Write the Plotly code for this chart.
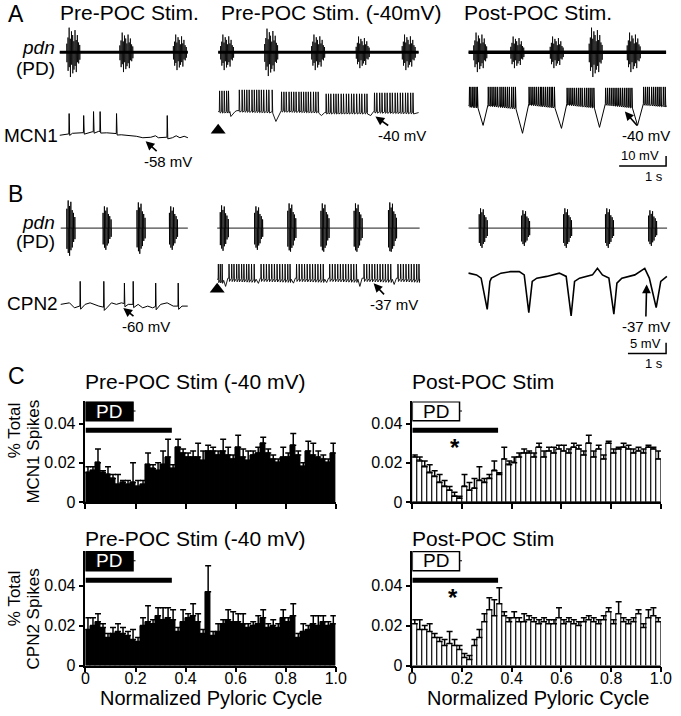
import numpy as np
import plotly.graph_objects as go

W, H = 681, 716
FONT = "Liberation Sans, Arial, sans-serif"

#%% panel A - pdn bursts (centre time s, amplitude a.u.) and MCN1 membrane potential
a_pre_bursts = [0.29, 1.42, 2.56]
a_pre_amps = [25, 20, 18]
a_hold_bursts = [0.19, 1.13, 2.13, 3.08, 4.06]
a_hold_amps = [18, 24, 18, 16, 18]
a_post_bursts = [0.25, 1.04, 1.88, 2.71, 3.52]
a_post_amps = [20, 16, 16, 25, 20]

mcn1_pre_knot_t = [0, .10, .27, .48, .69, .83, 1.0, 1.19, 1.31, 1.48, 1.63, 1.77, 1.94, 2.04, 2.10, 2.27, 2.40, 2.48, 2.56, 2.65, 2.73]
mcn1_pre_knot_v = [-55, -54.5, -53, -52.5, -51.5, -51, -52.5, -53, -54.5, -55, -56, -57.5, -57, -55.5, -57.5, -57, -57.5, -55.5, -57.5, -56, -57.5]
mcn1_pre_spikes = [([.20, .51, .72, .86, 1.21, 2.29], [-33, -35, -31, -31, -33, -35])]

mcn1_hold_knot_t = [0, .25, .27, .36, .40, 1.15, 1.23, 1.33, 2.13, 2.20, 2.27, 3.18, 3.25, 3.31, 4.27]
mcn1_hold_knot_v = [-36, -36, -41, -36, -35, -36, -46, -35, -36, -40, -37, -37, -40, -36, -37]
mcn1_hold_spikes = [
    ([.03, .08, .13, .18, .22], -15),
    ([.45, .51, .56, .61, .66, .72, .77, .82, .87, .92, .97, 1.03, 1.08, 1.15], -14),
    ([1.35, 1.40, 1.45, 1.51, 1.56, 1.61, 1.66, 1.72, 1.77, 1.82, 1.87, 1.92, 1.97, 2.03, 2.08, 2.13], -16),
    ([2.30, 2.35, 2.40, 2.46, 2.51, 2.56, 2.62, 2.67, 2.73, 2.78, 2.84, 2.89, 2.95, 3.01, 3.06, 3.12, 3.17], -18),
    ([3.33, 3.38, 3.44, 3.49, 3.55, 3.60, 3.66, 3.71, 3.77, 3.82, 3.88, 3.93, 3.99, 4.04, 4.10, 4.15], -17),
]

mcn1_post_knot_t = [0, .19, .31, .40, 1.0, 1.15, 1.27, 1.83, 1.98, 2.08, 2.67, 2.79, 2.90, 3.48, 3.60, 3.71, 4.21]
mcn1_post_knot_v = [-34, -35, -54, -33, -36, -62, -32, -35, -57, -32, -35, -56, -32, -35, -54, -32, -34]
mcn1_post_spikes = [
    ([.02, .05, .09, .12, .16, .19], -15),
    ([.42, .46, .50, .54, .58, .62, .67, .71, .75, .79, .83, .87, .92, .96, 1.0], -15),
    ([1.29, 1.33, 1.37, 1.41, 1.45, 1.49, 1.53, 1.56, 1.60, 1.64, 1.68, 1.72, 1.76, 1.79, 1.83], -15),
    ([2.10, 2.14, 2.18, 2.22, 2.26, 2.30, 2.34, 2.38, 2.42, 2.47, 2.51, 2.55, 2.59, 2.63, 2.67], -16),
    ([2.92, 2.96, 3.0, 3.04, 3.08, 3.12, 3.16, 3.20, 3.24, 3.28, 3.32, 3.36, 3.40, 3.44, 3.48], -16),
    ([3.73, 3.77, 3.81, 3.85, 3.90, 3.94, 3.98, 4.02, 4.06, 4.10, 4.15, 4.19], -15),
]

#%% panel B - pdn bursts and CPN2 membrane potential
b_pre_bursts = [0.26, 1.21, 2.10, 2.95]
b_pre_amps = [28, 22, 26, 22]
b_hold_bursts = [0.18, 1.08, 1.95, 2.82, 3.69, 4.59]
b_hold_amps = [23, 22, 25, 25, 25, 26]
b_post_bursts = [0.38, 1.49, 2.59, 3.69, 4.82]
b_post_amps = [20, 18, 20, 20, 18]

cpn2_pre_knot_t = [0, .23, .36, .64, .77, 1.0, 1.21, 1.33, 1.46, 1.59, 1.77, 2.03, 2.15, 2.28, 2.41, 2.62, 2.79, 2.95, 3.18, 3.33]
cpn2_pre_knot_v = [-59.2, -58.5, -60.8, -59.2, -58.5, -60, -60.8, -58.5, -59.2, -58.5, -59.2, -59.2, -60.8, -60, -60.8, -59.2, -58.5, -60, -60, -60]
cpn2_pre_spikes = [([.51, 1.13, 1.67, 1.90, 2.49, 3.08], [-48.6, -48.6, -49.4, -48.6, -49.4, -49.4])]

cpn2_hold_knot_t = [0, .17, .22, .28, 1.02, 1.08, 1.13, 1.94, 2.0, 2.05, 2.82, 2.87, 2.92, 3.69, 3.74, 3.80, 4.59, 4.64, 4.70, 5.31]
cpn2_hold_knot_v = [-36, -36.5, -39.3, -35.5, -36, -37.9, -35.5, -36, -37.8, -35.5, -36, -37.5, -35.5, -36, -39.3, -35.5, -36, -38.4, -35.5, -36]
cpn2_hold_spikes = [
    ([.03, .08, .13], -29),
    ([.31, .38, .44, .51, .57, .64, .70, .77, .83, .90, .97], -29),
    ([1.15, 1.22, 1.29, 1.36, 1.43, 1.50, 1.57, 1.64, 1.71, 1.78, 1.85, 1.91], -29),
    ([2.08, 2.15, 2.22, 2.29, 2.36, 2.43, 2.50, 2.57, 2.64, 2.71, 2.78], -29),
    ([2.95, 3.02, 3.09, 3.16, 3.23, 3.30, 3.37, 3.44, 3.51, 3.58, 3.65], -29),
    ([3.85, 3.92, 3.99, 4.06, 4.13, 4.20, 4.27, 4.34, 4.41, 4.48, 4.55], -29),
    ([4.74, 4.81, 4.88, 4.95, 5.02, 5.09, 5.16, 5.23, 5.29], -29),
]

cpn2_post_t = [0, .21, .33, .49, .56, .60, .85, 1.10, 1.33, 1.46, 1.58, 1.67, 1.79, 2.05, 2.38, 2.56, 2.69, 2.78,
               2.91, 3.25, 3.38, 3.51, 3.68, 3.81, 3.89, 4.02, 4.36, 4.62, 4.74, 4.92, 5.04, 5.20]
cpn2_post_v = [-34.1, -34.9, -36.4, -50.8, -37.9, -36.4, -34.1, -33.4, -33.4, -34.9, -52.3, -37.9, -36.4, -35.6, -34.1, -35.6,
               -53.8, -37.9, -36.4, -34.9, -31.9, -34.9, -36.4, -53.0, -38.7, -36.4, -34.9, -31.9, -36.4, -50.0, -37.9, -35.6]

# extracellular spike pattern inside one burst (offset s, relative up / down deflection)
a_burst_off = [-0.14, -0.115, -0.09, -0.065, -0.04, -0.015, 0.01, 0.035, 0.06, 0.085, 0.11, 0.135]
a_burst_up = [0.35, 0.6, 1.0, 0.55, 0.85, 0.7, 0.45, 0.9, 0.5, 0.7, 0.4, 0.3]
a_burst_dn = [0.4, 0.75, 0.6, 1.0, 0.5, 0.85, 0.7, 0.55, 0.8, 0.4, 0.45, 0.3]
b_burst_off = [-0.1, -0.065, -0.03, 0.005, 0.04, 0.075, 0.11]
b_burst_up = [0.7, 1.0, 0.8, 0.95, 0.65, 0.55, 0.4]
b_burst_dn = [0.75, 0.9, 1.0, 0.8, 0.7, 0.5, 0.4]

#%% panel C - spike phase histograms (50 bins), mean and SE
bin_w = 0.02
bins = [round(bin_w * (i + 0.5), 3) for i in range(50)]
pd_end = 0.345

mcn1_pre = [.015, .016, .020, .015, .014, .012, .009, .010, .009, .010, .008, .009, .019, .017, .016, .019, .023, .017, .028, .025,
            .023, .023, .023, .021, .026, .026, .024, .026, .024, .022, .028, .023, .021, .024, .025, .030, .025, .022, .020, .023,
            .023, .029, .024, .018, .026, .024, .023, .022, .020, .025]
mcn1_pre_se = [.003, .002, .007, .001, .004, .002, .005, .001, .002, .010, .003, .002, .006, .002, .004, .007, .009, .002, .004, .002,
               .002, .003, .007, .005, .003, .002, .002, .006, .004, .002, .006, .004, .005, .002, .003, .003, .002, .002, .002, .005,
               .002, .006, .002, .002, .005, .006, .003, .002, .002, .005]
mcn1_post = [.023, .021, .018, .015, .013, .010, .008, .006, .003, .002, .008, .006, .007, .011, .010, .012, .016, .014, .022, .019,
             .020, .023, .025, .025, .023, .028, .023, .026, .025, .027, .026, .025, .028, .027, .024, .030, .023, .027, .022, .030,
             .025, .027, .028, .027, .025, .026, .025, .028, .027, .022]
mcn1_post_se = [.001, .002, .003, .004, .003, .004, .003, .002, .002, .001, .006, .004, .005, .007, .002, .002, .005, .001, .006, .002,
                .003, .002, .002, .001, .002, .002, .003, .002, .003, .002, .003, .002, .002, .002, .002, .004, .003, .002, .002, .001,
                .002, .001, .002, .002, .002, .002, .002, .001, .001, .004]
cpn2_pre = [.018, .020, .022, .019, .014, .016, .017, .016, .015, .013, .012, .020, .022, .021, .025, .023, .024, .023, .017, .022,
            .024, .025, .022, .016, .037, .015, .017, .021, .023, .022, .022, .021, .019, .020, .021, .024, .019, .020, .019, .024,
            .022, .025, .014, .017, .018, .021, .020, .022, .020, .021]
cpn2_pre_se = [.006, .004, .004, .002, .002, .003, .004, .003, .002, .005, .002, .004, .008, .002, .004, .006, .005, .005, .002, .006,
               .002, .006, .004, .002, .013, .002, .004, .002, .005, .005, .004, .005, .002, .002, .004, .004, .002, .003, .002, .004,
               .002, .006, .002, .004, .002, .004, .005, .003, .002, .004]
cpn2_post = [.021, .018, .018, .017, .014, .012, .010, .011, .010, .008, .004, .003, .010, .014, .022, .028, .025, .031, .025, .022,
             .024, .022, .022, .023, .022, .021, .022, .021, .021, .024, .021, .022, .021, .020, .022, .023, .022, .021, .023, .027,
             .021, .026, .022, .021, .022, .026, .019, .024, .025, .022]
cpn2_post_se = [.002, .005, .002, .004, .002, .002, .003, .006, .003, .002, .002, .002, .003, .004, .004, .006, .008, .008, .002, .002,
                .003, .002, .004, .002, .002, .002, .002, .002, .002, .005, .002, .002, .002, .002, .002, .002, .002, .002, .002, .002,
                .002, .006, .002, .002, .002, .002, .002, .004, .004, .002]


#%% helpers
def pdn_xy(bursts, amps, off, up, dn, t_end):
    xs, ys = [0.0], [0.0]
    for tb, a in zip(bursts, amps):
        for o, u, d in zip(off, up, dn):
            t = tb + o
            xs += [t, t, t + 0.003, t + 0.006]
            ys += [0, a * u, -a * d, 0]
    xs.append(t_end)
    ys.append(0)
    return xs, ys


def vm_xy(knot_t, knot_v, runs):
    pts = list(zip(knot_t, knot_v))
    for times, peaks in runs:
        if np.isscalar(peaks):
            peaks = [peaks] * len(times)
        for t, p in zip(times, peaks):
            b = float(np.interp(t, knot_t, knot_v))
            pts += [(t - 0.006, b), (t, p), (t + 0.012, b - 1.5)]
    pts.sort()
    return [p[0] for p in pts], [p[1] for p in pts]


layout = {}
n_ax = [0]


def axes(box, origin, vref, px_x, px_y):
    # box = (left, right, top, bottom) in pixels, origin = pixel where (0, vref) sits
    n_ax[0] += 1
    s = '' if n_ax[0] == 1 else str(n_ax[0])
    x0, x1, y0, y1 = box
    ox, oy = origin
    layout['xaxis' + s] = dict(domain=[x0 / W, x1 / W], range=[(x0 - ox) / px_x, (x1 - ox) / px_x],
                               visible=False, anchor='y' + s, fixedrange=True)
    layout['yaxis' + s] = dict(domain=[1 - y1 / H, 1 - y0 / H],
                               range=[vref - (y1 - oy) / px_y, vref + (oy - y0) / px_y],
                               visible=False, anchor='x' + s, fixedrange=True)
    return 'x' + s, 'y' + s


fig = go.Figure()
annots = []
shapes = []


def line(xa, ya, x, y, w=1.0):
    fig.add_trace(go.Scatter(x=x, y=y, mode='lines', line=dict(color='black', width=w),
                             xaxis=xa, yaxis=ya, showlegend=False, hoverinfo='skip'))


def arrow_label(xa, ya, t, v, text, ax, ay):
    annots.append(dict(xref=xa, yref=ya, x=t, y=v, text=text, showarrow=True, ax=ax, ay=ay,
                       arrowhead=2, arrowsize=1.1, arrowwidth=1.6, arrowcolor='black', standoff=0,
                       font=dict(size=15)))


def ptext(x, y, text, size, xanchor='center', **kw):
    annots.append(dict(xref='paper', yref='paper', x=x / W, y=1 - y / H, text=text, showarrow=False,
                       xanchor=xanchor, yanchor='middle', font=dict(size=size), **kw))


#%% panel A traces
A_S, A_MV = 48, 1.0
xa, ya = axes((54, 191, 18, 88), (57, 53), 0, A_S, 1)
line(xa, ya, [0, 131 / A_S], [0, 0], 3)
line(xa, ya, *pdn_xy(a_pre_bursts, a_pre_amps, a_burst_off, a_burst_up, a_burst_dn, 131 / A_S), 0.8)
xa, ya = axes((216, 427, 18, 88), (219, 53), 0, A_S, 1)
line(xa, ya, [0, 205 / A_S], [0, 0], 3)
line(xa, ya, *pdn_xy(a_hold_bursts, a_hold_amps, a_burst_off, a_burst_up, a_burst_dn, 205 / A_S), 0.8)
xa, ya = axes((472, 680, 18, 88), (475, 53), 0, A_S, 1)
line(xa, ya, [0, 202 / A_S], [0, 0], 3.5)
line(xa, ya, *pdn_xy(a_post_bursts, a_post_amps, a_burst_off, a_burst_up, a_burst_dn, 202 / A_S), 0.8)

xa, ya = axes((54, 191, 100, 150), (57, 140), -58, A_S, A_MV)
line(xa, ya, *vm_xy(mcn1_pre_knot_t, mcn1_pre_knot_v, mcn1_pre_spikes), 1)
arrow_label(xa, ya, 1.83, -61, '-58 mV', 22, 20)

xa, ya = axes((216, 427, 80, 140), (219, 117), -40, A_S, A_MV)
line(xa, ya, *vm_xy(mcn1_hold_knot_t, mcn1_hold_knot_v, mcn1_hold_spikes), 0.9)
fig.add_trace(go.Scatter(x=[0], y=[-55], mode='markers', marker=dict(symbol='triangle-up', size=13, color='black'),
                         xaxis=xa, yaxis=ya, showlegend=False, cliponaxis=False))
arrow_label(xa, ya, 3.35, -41, '-40 mV', 27, 19)

xa, ya = axes((472, 680, 80, 140), (475, 113), -40, A_S, A_MV)
line(xa, ya, *vm_xy(mcn1_post_knot_t, mcn1_post_knot_v, mcn1_post_spikes), 1)
arrow_label(xa, ya, 3.33, -40, '-40 mV', 21, 24)

# scale bar A: 1 s / 10 mV
xa, ya = axes((620, 681, 150, 175), (629, 168), 0, A_S, A_MV)
line(xa, ya, [0, 1, 1], [0, 0, 10], 1.5)
annots.append(dict(xref=xa, yref=ya, x=0.45, y=0.5, text='10 mV', showarrow=False, yanchor='bottom', font=dict(size=13)))

#%% panel B traces
B_S, B_MV = 39, 2.2
xa, ya = axes((55, 191, 196, 266), (58, 231), 0, B_S, 1)
line(xa, ya, *pdn_xy(b_pre_bursts, b_pre_amps, b_burst_off, b_burst_up, b_burst_dn, 130 / B_S), 0.9)
xa, ya = axes((215, 428, 196, 266), (218, 231), 0, B_S, 1)
line(xa, ya, *pdn_xy(b_hold_bursts, b_hold_amps, b_burst_off, b_burst_up, b_burst_dn, 207 / B_S), 0.9)
xa, ya = axes((472, 681, 196, 266), (475, 231), 0, B_S, 1)
line(xa, ya, *pdn_xy(b_post_bursts, b_post_amps, b_burst_off, b_burst_up, b_burst_dn, 203 / B_S), 0.9)

xa, ya = axes((55, 191, 275, 325), (58, 310), -60, B_S, B_MV)
line(xa, ya, *vm_xy(cpn2_pre_knot_t, cpn2_pre_knot_v, cpn2_pre_spikes), 1)
arrow_label(xa, ya, 1.64, -60.9, '-60 mV', 23, 18)

xa, ya = axes((215, 428, 255, 300), (218, 285), -37, B_S, B_MV)
line(xa, ya, *vm_xy(cpn2_hold_knot_t, cpn2_hold_knot_v, cpn2_hold_spikes), 0.9)
fig.add_trace(go.Scatter(x=[0], y=[-40.6], mode='markers', marker=dict(symbol='triangle-up', size=13, color='black'),
                         xaxis=xa, yaxis=ya, showlegend=False, cliponaxis=False))
arrow_label(xa, ya, 4.10, -37.9, '-37 mV', 20, 21)

xa, ya = axes((472, 681, 255, 325), (475, 283), -37, B_S, B_MV)
line(xa, ya, cpn2_post_t, cpn2_post_v, 1.6)
arrow_label(xa, ya, 4.67, -39.3, '-37 mV', -1, 42)

# scale bar B: 1 s / 5 mV
xa, ya = axes((630, 681, 340, 362), (638, 358), 0, B_S, B_MV)
line(xa, ya, [0, 1, 1], [0, 0, 5], 1.5)
annots.append(dict(xref=xa, yref=ya, x=0.45, y=0.3, text='5 mV', showarrow=False, yanchor='bottom', font=dict(size=13)))

#%% panel C histograms
hist_specs = [
    ((83.3, 339.3, 406.5, 508.5), 0.0513, mcn1_pre, mcn1_pre_se, 'black', False),
    ((417.5, 671.7, 406.5, 508.5), 0.0513, mcn1_post, mcn1_post_se, 'white', False),
    ((83.3, 339.3, 558, 674), 0.0574, cpn2_pre, cpn2_pre_se, 'black', True),
    ((417.5, 671.7, 558, 674), 0.0574, cpn2_post, cpn2_post_se, 'white', True),
]
hist_axes = []
for box, top, vals, se, fill, bottom in hist_specs:
    n_ax[0] += 1
    s = str(n_ax[0])
    x0, x1, y0, y1 = box
    common = dict(showline=True, linewidth=1.5, linecolor='black', ticks='outside', ticklen=5, tickwidth=1.5,
                  tickcolor='black', showgrid=False, zeroline=False, fixedrange=True)
    layout['xaxis' + s] = dict(domain=[x0 / W, x1 / W], range=[0, 1], anchor='y' + s,
                               tickvals=[0, .2, .4, .6, .8, 1], ticktext=['0', '0.2', '0.4', '0.6', '0.8', '1.0'],
                               showticklabels=bottom, tickfont=dict(size=16), ticklabelstandoff=-7, **common)
    layout['yaxis' + s] = dict(domain=[1 - y1 / H, 1 - y0 / H], range=[0, top], anchor='x' + s,
                               tickvals=[0, .02, .04], ticktext=['0', '0.02', '0.04'], tickfont=dict(size=16), **common)
    xa, ya = 'x' + s, 'y' + s
    hist_axes.append((xa, ya, top))
    fig.add_trace(go.Bar(x=bins, y=vals, width=bin_w, xaxis=xa, yaxis=ya, showlegend=False,
                         marker=dict(color=fill, line=dict(color='black', width=1)),
                         error_y=dict(type='data', array=se, arrayminus=[0] * len(se), symmetric=False,
                                      color='black', thickness=1.5, width=3)))

for i, (xa, ya, top) in enumerate(hist_axes):
    filled = i % 2 == 0
    box_lo = top - 0.0099
    shapes.append(dict(type='rect', xref=xa, yref=ya, x0=0, x1=0.19, y0=box_lo, y1=top - 0.0002,
                       fillcolor='black' if filled else 'white', line=dict(color='black', width=1.5)))
    shapes.append(dict(type='line', xref=xa, yref=ya, x0=0.19, x1=0.2, y0=box_lo + 0.005, y1=box_lo + 0.005,
                       line=dict(color='black', width=1)))
    annots.append(dict(xref=xa, yref=ya, x=0.095, y=box_lo + 0.005, text='PD', showarrow=False,
                       font=dict(size=19, color='white' if filled else 'black')))
    bar_y = top - 0.0147
    shapes.append(dict(type='line', xref=xa, yref=ya, x0=0, x1=pd_end, y0=bar_y, y1=bar_y,
                       line=dict(color='black', width=5)))

annots.append(dict(xref=hist_axes[1][0], yref=hist_axes[1][1], x=0.158, y=0.0304, text='<b>*</b>',
                   showarrow=False, yshift=-5, xshift=3, font=dict(size=24)))
annots.append(dict(xref=hist_axes[3][0], yref=hist_axes[3][1], x=0.151, y=0.0366, text='<b>*</b>',
                   showarrow=False, yshift=-5, xshift=3, font=dict(size=24)))

#%% text
ptext(2, 14.5, 'A', 23, 'left')
ptext(2, 196, 'B', 23, 'left')
ptext(2, 381, 'C', 23, 'left')
ptext(55, 13, 'Pre-POC Stim.', 21, 'left')
ptext(220, 13, 'Pre-POC Stim. (-40mV)', 21, 'left')
ptext(468, 13, 'Post-POC Stim.', 21, 'left')
ptext(54, 48, '<i>pdn</i>', 19, 'right')
ptext(54, 69, '(PD)', 19, 'right')
ptext(57, 137, 'MCN1', 19, 'right')
ptext(54, 225, '<i>pdn</i>', 19, 'right')
ptext(54, 245, '(PD)', 19, 'right')
ptext(57, 307, 'CPN2', 19, 'right')
ptext(665, 179, '1 s', 13)
ptext(665, 368, '1 s', 13)
ptext(81, 386, 'Pre-POC Stim (-40 mV)', 21, 'left')
ptext(415, 386, 'Post-POC Stim', 21, 'left')
ptext(81, 545, 'Pre-POC Stim (-40 mV)', 21, 'left')
ptext(415, 545, 'Post-POC Stim', 21, 'left')
ptext(11, 436, '% Total', 17, textangle=-90)
ptext(30, 457, 'MCN1 Spikes', 17, textangle=-90)
ptext(11, 606, '% Total', 17, textangle=-90)
ptext(30, 627, 'CPN2 Spikes', 17, textangle=-90)
ptext(212, 707, 'Normalized Pyloric Cycle', 20)
ptext(546, 707, 'Normalized Pyloric Cycle', 20)

fig.update_layout(**layout)
fig.update_layout(width=W, height=H, margin=dict(l=0, r=0, t=0, b=0), paper_bgcolor='white', plot_bgcolor='white',
                  font=dict(family=FONT, color='black'), bargap=0, annotations=annots, shapes=shapes)
fig.write_html("out.html", config={'displayModeBar': False},
               post_script="document.body.style.margin='0px';")
